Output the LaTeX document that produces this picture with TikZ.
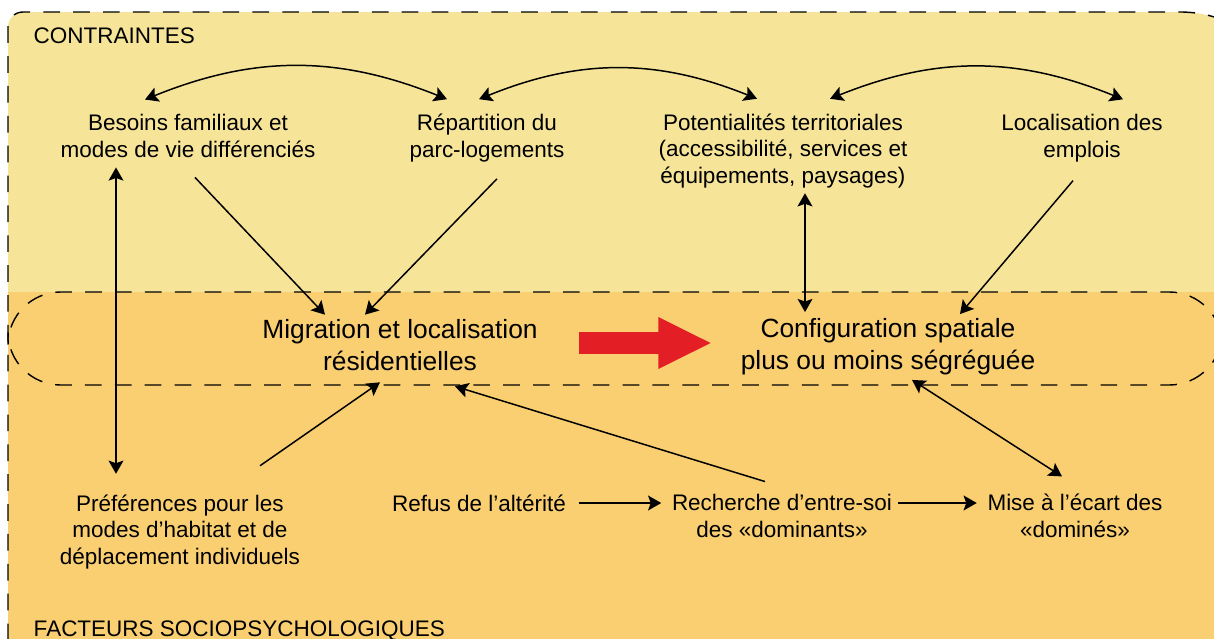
\documentclass[tikz,border=0pt]{standalone}
\usepackage{fontspec}
\setmainfont{Liberation Sans}
\usetikzlibrary{arrows.meta}
\definecolor{contrainte}{RGB}{246,229,153}
\definecolor{facteur}{RGB}{250,207,114}
\definecolor{fleche}{RGB}{227,30,36}
\begin{document}
\begin{tikzpicture}[x=0.02cm, y=0.02cm, line width=0.85pt,
        >={Stealth[length=7.5pt, width=8.5pt, inset=1.5pt]},
        lbl/.style={align=center, inner sep=0pt, font=\fontsize{12.8}{15.3}\selectfont},
        big/.style={align=center, inner sep=0pt, font=\fontsize{15}{18.1}\selectfont},
        zone/.style={dash pattern=on 9.5pt off 7.5pt, line width=0.8pt}]
        \clip (0,0) rectangle (1214,-639);
        \fill[contrainte] (8,-700) -- (8,-27) arc[start angle=180, end angle=90, radius=15] -- (1180,-12) arc[start angle=90, end angle=0, radius=120] -- (1300,-700) -- cycle;
        \fill[facteur] (8,-292) rectangle (1300,-700);
        \draw[zone] (8,-700) -- (8,-27) arc[start angle=180, end angle=90, radius=15] -- (1180,-12) arc[start angle=90, end angle=0, radius=120] -- (1300,-700);
        \draw[zone, rounded corners=30] (8,-292) rectangle (1222,-385);

        \node (contraintes) at (33,-43) [lbl, anchor=base west] {CONTRAINTES};
        \node (facteurs) at (33,-636) [lbl, anchor=base west] {FACTEURS SOCIOPSYCHOLOGIQUES};

        \node (besoins) at (188,-136) [lbl] {Besoins familiaux et\\modes de vie différenciés};
        \node (repartition) at (487,-138) [lbl] {Répartition du\\parc-logements};
        \node (potentialites) at (783,-151) [lbl] {Potentialités territoriales\\(accessibilité, services et\\équipements, paysages)};
        \node (emplois) at (1082,-138) [lbl] {Localisation des\\emplois};
        \node (migration) at (400,-345) [big] {Migration et localisation\\résidentielles};
        \node (configuration) at (888,-347) [big] {Configuration spatiale\\plus ou moins ségréguée};
        \node (preferences) at (180,-532) [lbl] {Préférences pour les\\modes d’habitat et de\\déplacement individuels};
        \node (refus) at (479,-503) [lbl] {Refus de l’altérité};
        \node (recherche) at (782,-516) [lbl] {Recherche d’entre-soi\\des «dominants»};
        \node (mise) at (1075,-516) [lbl] {Mise à l’écart des\\«dominés»};

        \draw[<->] ([shift={(-43,14)}]besoins.north) to[bend left=22] ([shift={(-40,14)}]repartition.north);
        \draw[<->] ([shift={(-8,14)}]repartition.north) to[bend left=22] ([shift={(-26,14)}]potentialites.north);
        \draw[<->] ([shift={(47,14)}]potentialites.north) to[bend left=22] ([shift={(41,14)}]emplois.north);

        \draw[->] ([shift={(7,-19)}]besoins.south) -- ([shift={(-75,4)}]migration.north);
        \draw[->] ([shift={(10,-16)}]repartition.south) -- ([shift={(-35,4)}]migration.north);
        \draw[<->] ([shift={(22,-4)}]potentialites.south) -- ([shift={(-83,6)}]configuration.north);
        \draw[->] ([shift={(-9,-18)}]emplois.south) -- ([shift={(72,4)}]configuration.north);
        \draw[<->] ([shift={(-72,-9)}]besoins.south) -- ([shift={(-64,20)}]preferences.north);
        \draw[->] ([shift={(80,28)}]preferences.north) -- ([shift={(-20,-11)}]migration.south);
        \draw[->] ([shift={(-17,12)}]recherche.north) -- ([shift={(55,-15)}]migration.south);
        \draw[->] ([shift={(12,0)}]refus.east) -- ([shift={(-10,13)}]recherche.west);
        \draw[->] ([shift={(5,13)}]recherche.east) -- ([shift={(-10,13)}]mise.west);
        \draw[<->] ([shift={(24,-4)}]configuration.south) -- ([shift={(-13,17)}]mise.north);

        \draw[fleche, line width=13pt, -{Triangle[length=30.6pt, width=27.2pt]}] ([shift={(41,2)}]migration.east) -- ([shift={(-28,2)}]configuration.west |- migration.east);
    \end{tikzpicture}
\end{document}
